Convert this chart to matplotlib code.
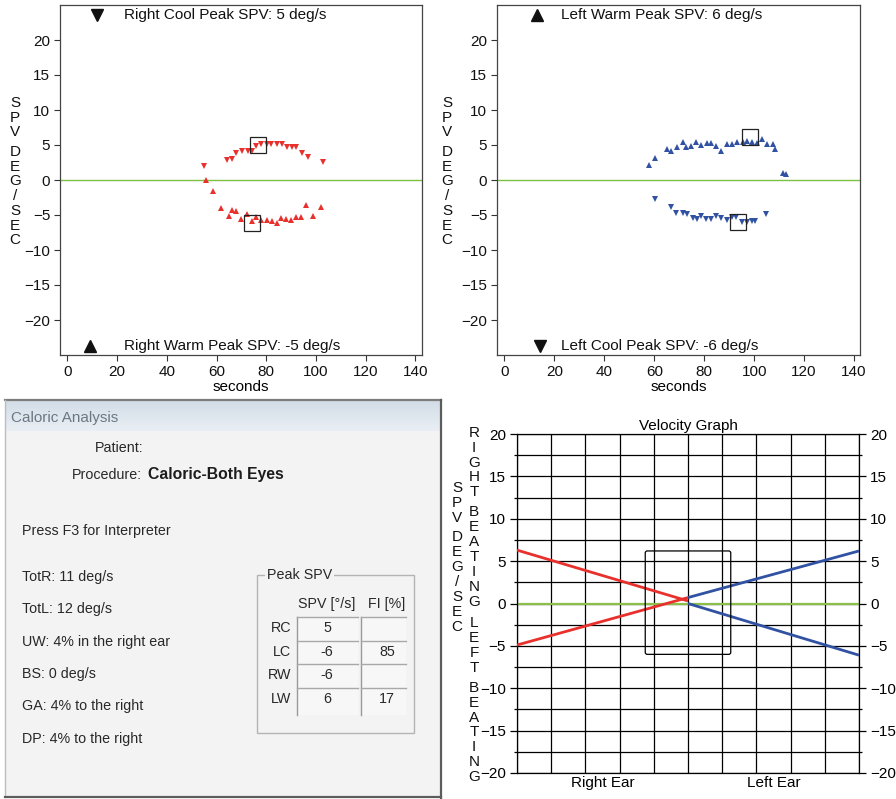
import numpy as np
import matplotlib
matplotlib.use("Agg")
import matplotlib.pyplot as plt
from matplotlib.patches import Rectangle, FancyBboxPatch

plt.rcParams["font.family"] = ["Liberation Sans", "DejaVu Sans"]

# ---------------- data ----------------
# Right ear irrigations (seconds, deg/s)
right_cool_t = [54.8, 64.2, 66.1, 67.6, 70.1, 72.6, 74.4, 76.0, 78.0, 80.4, 82.0,
                84.1, 86.4, 88.3, 90.3, 91.8, 94.3, 96.7, 102.7]
right_cool_spv = [2.0, 2.8, 3.0, 3.8, 4.1, 4.2, 4.2, 4.9, 5.1, 5.2, 5.1,
                  5.1, 5.1, 4.7, 4.7, 4.7, 3.8, 3.3, 2.6]
right_warm_t = [55.6, 58.6, 61.6, 64.8, 66.3, 67.6, 70.0, 72.2, 74.1, 76.0, 78.0,
                80.2, 82.1, 84.1, 85.7, 88.0, 89.9, 92.0, 94.1, 95.8, 98.6, 102.1]
right_warm_spv = [0.0, -1.6, -4.0, -5.1, -4.3, -4.4, -5.5, -4.9, -5.9, -5.3, -5.7,
                  -5.7, -5.8, -6.1, -5.4, -5.6, -5.7, -5.3, -5.3, -3.5, -5.1, -3.8]
right_peaks_t = [76.7, 74.3]
right_peaks_spv = [5.0, -6.1]

# Left ear irrigations
left_warm_t = [57.8, 60.2, 65.0, 66.6, 68.9, 71.6, 72.5, 74.6, 76.8, 78.9, 81.2,
               82.9, 84.7, 86.9, 89.0, 91.1, 93.1, 95.4, 97.1, 99.3, 101.1, 103.0,
               105.3, 107.6, 108.4, 111.6, 112.8]
left_warm_spv = [2.1, 3.2, 4.4, 4.2, 4.7, 5.4, 4.7, 4.9, 5.4, 5.0, 5.3,
                 5.3, 4.9, 4.1, 5.1, 5.1, 5.5, 5.5, 5.6, 5.5, 5.3, 5.8,
                 5.2, 5.1, 4.4, 1.0, 0.8]
left_cool_t = [60.2, 66.6, 68.8, 71.6, 73.2, 75.4, 76.9, 78.8, 80.8, 82.7,
               84.7, 86.9, 89.0, 91.1, 92.7, 95.0, 97.1, 99.0, 100.5, 104.6]
left_cool_spv = [-2.7, -3.9, -4.7, -4.7, -4.9, -5.4, -5.6, -5.2, -5.6, -5.6,
                 -5.1, -5.4, -5.7, -5.3, -5.3, -6.0, -6.0, -5.8, -5.9, -4.9]
left_peaks_t = [98.2, 93.7]
left_peaks_spv = [6.1, -6.0]

# Peak SPV values (deg/s)
peak_rc, peak_rw, peak_lw, peak_lc = 5, -5, 6, -6

# Butterfly chart segments: (x0, y0, x1, y1)
red_segments = [(0, 6.3, 5, 0.3), (0, -4.9, 5, 0.7)]
blue_segments = [(5, 0.7, 10, 6.2), (5, 0.0, 10, -6.1)]
box_x = (3.75, 6.25)
box_y = (-6.0, 6.2)

# Dialog contents
summary_lines = ["TotR: 11 deg/s", "TotL: 12 deg/s", "UW: 4% in the right ear",
                 "BS: 0 deg/s", "GA: 4% to the right", "DP: 4% to the right"]
table_rows = ["RC", "LC", "RW", "LW"]
table_spv = ["5", "-6", "-6", "6"]
table_fi = ["", "85", "", "17"]

RED = "#e8302c"
BLUE = "#3152a3"
GREEN = "#7cc142"
W, H = 896, 799
FS = 11

fig = plt.figure(figsize=(W / 100, H / 100), dpi=100)


def frac(l, t, r, b):
    return [l / W, 1 - b / H, (r - l) / W, (b - t) / H]


def letters(x, y0, word, step=14.8, size=FS):
    """Write a word one letter per row, top to bottom (pixel positions)."""
    for i, ch in enumerate(word):
        fig.text(x / W, 1 - (y0 + i * step) / H, ch, ha="center", va="center",
                 fontsize=size, color="#111111")


def spv_axes(rect, up_t, up_v, dn_t, dn_v, peak_t, peak_v, color, top_mark,
             top_text, bot_mark, bot_text, ylabel_x):
    ax = fig.add_axes(frac(*rect))
    ax.axhline(0, color=GREEN, lw=1.0, zorder=1)
    ax.plot(up_t, up_v, "^", color=color, ms=4.8, mew=0, zorder=3)
    ax.plot(dn_t, dn_v, "v", color=color, ms=4.8, mew=0, zorder=3)
    ax.plot(peak_t, peak_v, "s", mfc="none", mec="#222222", ms=11.5, mew=0.9,
            zorder=4)
    ax.set_xlim(-3, 142.5)
    ax.set_ylim(-25, 25)
    ax.set_xticks(np.arange(0, 141, 20))
    ax.set_yticks(np.arange(-20, 21, 5))
    ax.set_yticklabels([str(v).replace("-", "\u2212") for v in range(-20, 21, 5)])
    ax.tick_params(labelsize=FS, length=4, width=0.8, color="#333333",
                   labelcolor="#111111", pad=3)
    for s in ax.spines.values():
        s.set_color("#444444")
        s.set_linewidth(0.9)
    ax.set_xlabel("seconds", fontsize=FS, labelpad=1)
    ax.plot([top_mark[0]], [top_mark[1]], top_mark[2], color="#111111", ms=8,
            clip_on=False, zorder=5)
    ax.text(22.7, top_mark[1], top_text, fontsize=FS, va="center", color="#111111")
    ax.plot([bot_mark[0]], [bot_mark[1]], bot_mark[2], color="#111111", ms=8,
            clip_on=False, zorder=5)
    ax.text(22.7, bot_mark[1], bot_text, fontsize=FS, va="center", color="#111111")
    letters(ylabel_x, 103, "SPV", step=14.6)
    letters(ylabel_x, 152, "DEG/SEC", step=14.7)
    return ax


spv_axes((60, 5, 421.7, 355), right_warm_t, right_warm_spv, right_cool_t,
         right_cool_spv, right_peaks_t, right_peaks_spv, RED,
         (11.8, 23.6, "v"), f"Right Cool Peak SPV: {peak_rc} deg/s",
         (9.0, -23.7, "^"), f"Right Warm Peak SPV: {peak_rw} deg/s", 15)
spv_axes((497, 5, 860.3, 355), left_warm_t, left_warm_spv, left_cool_t,
         left_cool_spv, left_peaks_t, left_peaks_spv, BLUE,
         (13.1, 23.6, "^"), f"Left Warm Peak SPV: {peak_lw} deg/s",
         (14.3, -23.7, "v"), f"Left Cool Peak SPV: {peak_lc} deg/s", 447)

# ---------------- Velocity graph ----------------
av = fig.add_axes(frac(517, 434, 859, 773))
av.set_xlim(0, 10)
av.set_ylim(-20, 20)
for gx in range(0, 11):
    av.axvline(gx, color="black", lw=0.9, zorder=1)
for gy in np.arange(-20, 20.1, 2.5):
    av.axhline(gy, color="black", lw=0.9, zorder=1)
av.axhline(0, color="#8cbf4a", lw=1.6, zorder=2)
for x0, y0, x1, y1 in red_segments:
    av.plot([x0, x1], [y0, y1], color=RED, lw=2.0, zorder=3, solid_capstyle="butt")
for x0, y0, x1, y1 in blue_segments:
    av.plot([x0, x1], [y0, y1], color=BLUE, lw=2.0, zorder=3, solid_capstyle="butt")
av.add_patch(FancyBboxPatch((box_x[0], box_y[0]), box_x[1] - box_x[0],
                            box_y[1] - box_y[0],
                            boxstyle="round,pad=0,rounding_size=0.06",
                            mutation_aspect=4, fc="none", ec="black", lw=0.9,
                            zorder=4))
av.set_yticks(np.arange(-20, 21, 5))
av.set_yticks(np.arange(-17.5, 20, 5), minor=True)
ylabels = [str(v).replace("-", "\u2212") for v in range(-20, 21, 5)]
av.set_yticklabels(ylabels)
av.tick_params(axis="y", which="both", left=True, right=True, labelleft=True,
               labelright=True, labelsize=FS, width=0.9, pad=3)
av.tick_params(axis="y", which="major", length=5)
av.tick_params(axis="y", which="minor", length=2.5)
av.set_xticks([2.5, 7.5])
av.set_xticklabels(["Right Ear", "Left Ear"])
av.tick_params(axis="x", length=0, labelsize=FS, pad=2)
for s in av.spines.values():
    s.set_linewidth(0.9)
av.set_title("Velocity Graph", fontsize=FS, pad=3)
letters(457, 488, "SPV", step=15)
letters(457, 537, "DEG/SEC", step=15)
letters(474, 433, "RIGHT", step=14.8)
letters(474, 512, "BEATING", step=15)
letters(474, 623, "LEFT", step=15)
letters(474, 688, "BEATING", step=14.8)

# ---------------- Caloric analysis dialog ----------------
ad = fig.add_axes([0, 0, 448 / W, 404 / H])
ad.axis("off")
ad.add_patch(Rectangle((5, 401), 436, 396, fc="#f3f3f3", ec="none", zorder=0))
grad = np.linspace(0, 1, 64).reshape(-1, 1)
ad.imshow(grad, extent=(5, 441, 431, 401), cmap=matplotlib.colors.LinearSegmentedColormap.from_list(
    "bar", ["#d3dde7", "#e9eff4"]), aspect="auto", zorder=1)
ad.plot([5, 441], [400, 400], color="#7d7d7d", lw=1.6, zorder=3)
ad.plot([5, 5], [400, 797], color="#bdbdbd", lw=1.0, zorder=3)
ad.plot([441, 441], [400, 798], color="#5c5c5c", lw=1.6, zorder=3)
ad.plot([5, 441], [797, 797], color="#5c5c5c", lw=1.6, zorder=3)
ad.set_xlim(0, 448)
ad.set_ylim(799, 395)

DFS = 10.3
dlg_font = dict(fontsize=DFS, color="#282828", va="center")
ad.text(11, 418, "Caloric Analysis", fontsize=11, color="#6b7884", va="center", zorder=4)
ad.text(143, 448, "Patient:", ha="right", **dlg_font)
ad.text(142, 475, "Procedure:", ha="right", **dlg_font)
ad.text(148, 475, "Caloric-Both Eyes", fontsize=11.3, fontweight="bold",
        color="#1c1c1c", va="center")
ad.text(22, 531, "Press F3 for Interpreter", **dlg_font)
for i, line in enumerate(summary_lines):
    ad.text(22, 577 + i * 32.3, line, **dlg_font)

# Peak SPV group box
ad.add_patch(Rectangle((257, 575), 157, 158, fc="none", ec="#b4b4b4", lw=1.0, zorder=2))
ad.text(267, 575, "Peak SPV", fontsize=DFS, color="#282828", va="center", zorder=4,
        bbox=dict(fc="#f3f3f3", ec="none", pad=1.5))
ad.text(327, 604, "SPV [\u00b0/s]", ha="center", **dlg_font)
ad.text(387, 604, "FI [%]", ha="center", **dlg_font)
row_tops = [617, 641, 664, 688]
cols = [(297, 358), (361, 406)]
for c0, c1 in cols:
    ad.add_patch(Rectangle((c0, 617), c1 - c0, 98, fc="#f7f7f7", ec="none", zorder=2))
    ad.plot([c0, c0], [617, 715], color="#9a9a9a", lw=1.0, zorder=3)
    for rt in row_tops:
        ad.plot([c0, c1], [rt, rt], color="#a8a8a8", lw=1.0, zorder=3)
for i, (lab, v1, v2) in enumerate(zip(table_rows, table_spv, table_fi)):
    yc = row_tops[i] + 11
    ad.text(291, yc, lab, ha="right", **dlg_font)
    ad.text(327, yc, v1, ha="center", **dlg_font)
    ad.text(387, yc, v2, ha="center", **dlg_font)

fig.savefig("out.png", dpi=100, facecolor="white")
